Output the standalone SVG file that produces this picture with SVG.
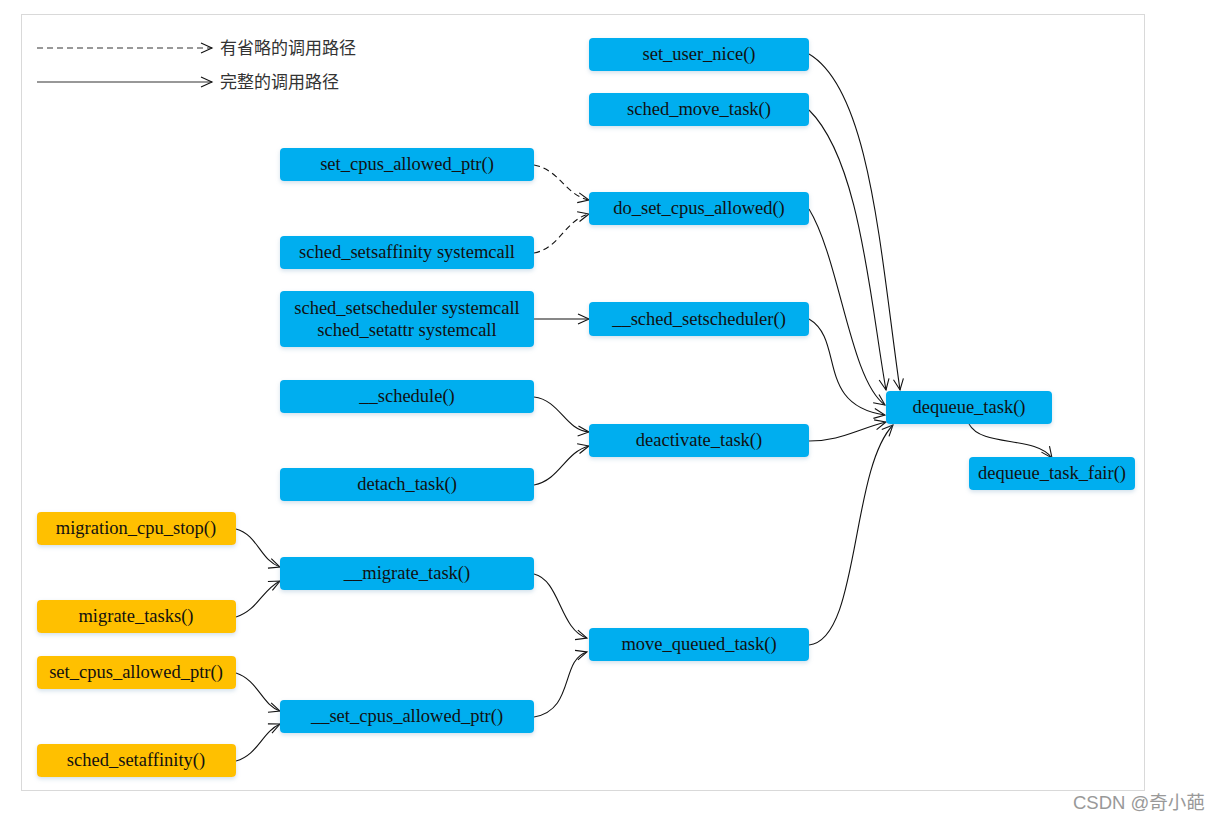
<svg xmlns="http://www.w3.org/2000/svg" width="1220" height="821" viewBox="0 0 1220 821">
<style>
.b{fill:#00AEEF}
.o{fill:#FFC000}
.n rect{rx:4;ry:4;filter:url(#sh)}
.n text{font-family:"Liberation Serif","Times New Roman",serif;font-size:18.5px;fill:#111;text-anchor:middle}
.e path{fill:none;stroke:#111;stroke-width:1.1;marker-end:url(#ah)}
.d{stroke-dasharray:6 4}
.lg{font-family:"Noto Sans CJK SC","Noto Sans",sans-serif;font-size:17px;fill:#333}
</style>
<defs>
<marker id="ah" markerWidth="14" markerHeight="12" refX="12" refY="6" orient="auto" markerUnits="userSpaceOnUse">
<path d="M1,1 L12,6 L1,11" fill="none" stroke="#111" stroke-width="1.1"/>
</marker>
<filter id="sh" x="-10%" y="-30%" width="120%" height="170%">
<feDropShadow dx="0" dy="2" stdDeviation="2" flood-color="#7fa8c8" flood-opacity="0.35"/>
</filter>
</defs>
<rect x="0" y="0" width="1220" height="821" fill="#fff"/>
<rect x="21.5" y="14.5" width="1123" height="776" fill="none" stroke="#d9d9d9"/>
<g id="legend">
<path d="M37,48 H212" stroke="#333" stroke-width="1.1" stroke-dasharray="6 4" fill="none" marker-end="url(#ah)"/>
<text class="lg" x="220" y="54">有省略的调用路径</text>
<path d="M37,82 H212" stroke="#333" stroke-width="1.1" fill="none" marker-end="url(#ah)"/>
<text class="lg" x="220" y="88">完整的调用路径</text>
</g>
<g id="edges" class="e">
<path d="M809,54 C870,90 880,250 900,390"/>
<path d="M809,110 C860,160 870,300 886,390"/>
<path d="M809,209 C840,260 850,380 885,405"/>
<path d="M809,319 C845,340 815,405 885,415"/>
<path d="M809,441 C840,441 855,430 886,422"/>
<path d="M809,645 C860,640 850,470 893,425"/>
<path d="M969,424 C982,448 1035,435 1052,458"/>
<path class="d" d="M534,165 C560,170 565,195 589,200"/>
<path class="d" d="M534,253 C560,248 565,220 589,214"/>
<path d="M534,319 H589"/>
<path d="M534,397 C560,400 565,430 589,432"/>
<path d="M534,485 C560,480 565,452 589,446"/>
<path d="M534,574 C560,580 560,630 587,638"/>
<path d="M534,717 C575,710 560,660 587,652"/>
<path d="M236,529 C258,535 260,560 280,567"/>
<path d="M236,617 C258,610 262,590 280,581"/>
<path d="M236,673 C258,680 262,705 280,711"/>
<path d="M236,761 C258,755 262,732 280,724"/>
</g>
<g id="n_set_user_nice" class="n"><rect class="b" x="589" y="38" width="220" height="33"/><text x="699" y="60">set_user_nice()</text></g>
<g id="n_sched_move_task" class="n"><rect class="b" x="589" y="93" width="220" height="33"/><text x="699" y="115">sched_move_task()</text></g>
<g id="n_do_set_cpus_allowed" class="n"><rect class="b" x="589" y="192" width="220" height="33"/><text x="699" y="214">do_set_cpus_allowed()</text></g>
<g id="n_sched_setscheduler_k" class="n"><rect class="b" x="589" y="302" width="220" height="34"/><text x="699" y="325">__sched_setscheduler()</text></g>
<g id="n_deactivate_task" class="n"><rect class="b" x="589" y="424" width="220" height="33"/><text x="699" y="446">deactivate_task()</text></g>
<g id="n_move_queued_task" class="n"><rect class="b" x="589" y="628" width="220" height="33"/><text x="699" y="650">move_queued_task()</text></g>
<g id="n_set_cpus_allowed_ptr_b" class="n"><rect class="b" x="280" y="148" width="254" height="33"/><text x="407" y="170">set_cpus_allowed_ptr()</text></g>
<g id="n_sched_setsaffinity" class="n"><rect class="b" x="280" y="236" width="254" height="33"/><text x="407" y="258">sched_setsaffinity systemcall</text></g>
<g id="n_sched_setscheduler_sys" class="n"><rect class="b" x="280" y="291" width="254" height="56"/><text x="407" y="314">sched_setscheduler systemcall</text><text x="407" y="336">sched_setattr systemcall</text></g>
<g id="n_schedule" class="n"><rect class="b" x="280" y="380" width="254" height="33"/><text x="407" y="402">__schedule()</text></g>
<g id="n_detach_task" class="n"><rect class="b" x="280" y="468" width="254" height="33"/><text x="407" y="490">detach_task()</text></g>
<g id="n_migrate_task" class="n"><rect class="b" x="280" y="557" width="254" height="33"/><text x="407" y="579">__migrate_task()</text></g>
<g id="n_set_cpus_allowed_ptr_k" class="n"><rect class="b" x="280" y="700" width="254" height="33"/><text x="407" y="722">__set_cpus_allowed_ptr()</text></g>
<g id="n_dequeue_task" class="n"><rect class="b" x="886" y="391" width="166" height="33"/><text x="969" y="413">dequeue_task()</text></g>
<g id="n_dequeue_task_fair" class="n"><rect class="b" x="969" y="457" width="166" height="33"/><text x="1052" y="479">dequeue_task_fair()</text></g>
<g id="n_migration_cpu_stop" class="n"><rect class="o" x="37" y="512" width="199" height="33"/><text x="136" y="534">migration_cpu_stop()</text></g>
<g id="n_migrate_tasks" class="n"><rect class="o" x="37" y="600" width="199" height="33"/><text x="136" y="622">migrate_tasks()</text></g>
<g id="n_set_cpus_allowed_ptr_o" class="n"><rect class="o" x="37" y="656" width="199" height="33"/><text x="136" y="678">set_cpus_allowed_ptr()</text></g>
<g id="n_sched_setaffinity" class="n"><rect class="o" x="37" y="744" width="199" height="33"/><text x="136" y="766">sched_setaffinity()</text></g>
<text x="1073" y="809" font-family="Liberation Sans,'Noto Sans CJK SC',sans-serif" font-size="18.5" fill="#999">CSDN @奇小葩</text>
</svg>
